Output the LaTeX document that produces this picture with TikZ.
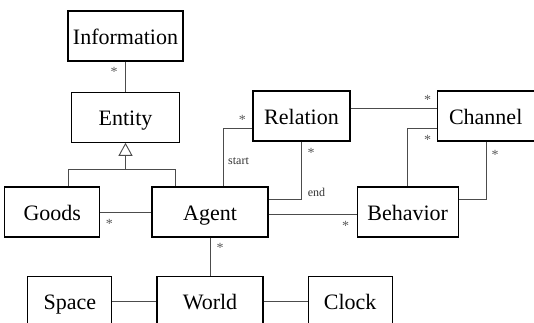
\documentclass[tikz,border=0pt]{standalone}
\usepackage{fontspec}
\setmainfont{Liberation Serif}
\usetikzlibrary{positioning,calc,arrows.meta}

\tikzset{
  cls/.style={draw, line width=1.2pt, minimum height=50pt, inner sep=4pt, text height=16pt, text depth=0pt, font=\fontsize{22}{26}\selectfont},
  assoc/.style={draw=black!70, line width=0.9pt},
  mult/.style={anchor=base, inner sep=0pt, text=black!65, font=\fontsize{14}{14}\selectfont},
  role/.style={anchor=west, inner sep=0pt, text=black!80, font=\fontsize{12}{12}\selectfont},
}

\begin{document}
\begin{tikzpicture}[x=1pt, y=-1pt]
    \useasboundingbox (0,0) rectangle (534,322);
    % classes
    \node[cls, minimum width=115pt] (Information) at (125.5,36) {Information};
    \node[cls, minimum width=108pt, below=30pt of Information] (Entity) {Entity};
    \node[cls, minimum width=116pt] (Agent) at (210,212) {Agent};
    \node[cls, minimum width=95pt, left=51pt of Agent] (Goods) {Goods};
    \node[cls, minimum width=101pt, right=88pt of Agent] (Behavior) {Behavior};
    \node[cls, minimum width=97pt] (Relation) at (301.5,116) {Relation};
    \node[cls, minimum width=97pt, right=86pt of Relation] (Channel) {Channel};
    \node[cls, minimum width=106pt, below=38pt of Agent] (World) {World};
    \node[cls, minimum width=84pt, left=44pt of World] (Space) {Space};
    \node[cls, minimum width=84pt, right=44pt of World] (Clock) {Clock};

    % generalization
    \coordinate (fork) at ($(Entity.south)+(0,27)$);
    \draw[assoc, -{Triangle[open, width=14pt, length=13pt]}] (fork) -- (Entity.south);
    \draw[assoc] ($(Goods.north)+(16.5,0)$) |- (fork) -| ($(Agent.north)+(-35,0)$);

    % associations
    \draw[assoc] (Information) -- (Entity);
    \draw[assoc] (Goods.east) -- (Agent.west);
    \draw[assoc] ($(Relation.west)+(0,12)$) -| ($(Agent.north)+(13,0)$);
    \draw[assoc] (Relation.south) |- ($(Agent.east)+(0,-13)$);
    \draw[assoc] ($(Agent.east)+(0,2)$) -- ($(Behavior.west)+(0,2)$);
    \draw[assoc] ($(Relation.east)+(0,-8)$) -- ($(Channel.west)+(0,-8)$);
    \draw[assoc] ($(Channel.west)+(0,12)$) -| (Behavior.north);
    \draw[assoc] ($(Channel.south)+(1,0)$) |- ($(Behavior.east)+(0,-13)$);
    \draw[assoc] (Agent) -- (World);
    \draw[assoc] (Space) -- (World) -- (Clock);

    % multiplicities and roles
    \node[mult] at ($(Information.south)+(-11.5,15)$) {*};
    \node[mult] at ($(Goods.east)+(9,16)$) {*};
    \node[mult] at ($(Relation.west)+(-10,8)$) {*};
    \node[mult] at ($(Relation.south)+(9.5,16)$) {*};
    \node[mult] at ($(Behavior.west)+(-11,18)$) {*};
    \node[mult] at ($(Channel.west)+(-9,-12)$) {*};
    \node[mult] at ($(Channel.west)+(-9,28)$) {*};
    \node[mult] at ($(Channel.south)+(9.5,18)$) {*};
    \node[mult] at ($(Agent.south)+(10,15)$) {*};
    \node[role] at ($(Agent.north)+(18,-25)$) {start};
    \node[role] at ($(Agent.east)+(39,-20)$) {end};
\end{tikzpicture}
\end{document}
